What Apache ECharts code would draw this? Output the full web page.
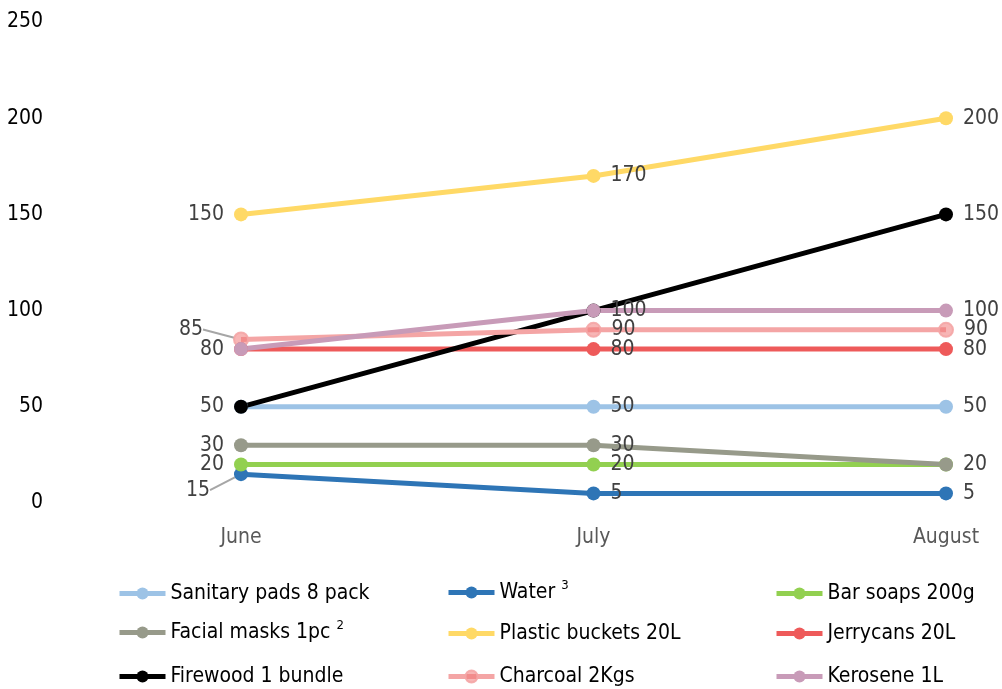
<!DOCTYPE html>
<html><head><meta charset="utf-8">
<script src="https://cdn.jsdelivr.net/npm/echarts@6/dist/echarts.min.js"></script>
<style>html,body{margin:0;padding:0;background:#fff}#c{width:1002px;height:689px}</style>
</head><body><div id="c"></div>
<script>
var months = ['June', 'July', 'August'];
var yTicks = [0, 50, 100, 150, 200, 250];
var sanitaryPads = [50, 50, 50];
var water = [15, 5, 5];
var barSoaps = [20, 20, 20];
var facialMasks = [30, 30, 20];
var plasticBuckets = [150, 170, 200];
var jerrycans = [80, 80, 80];
var firewood = [50, 100, 150];
var charcoal = [85, 90, 90];
var kerosene = [80, 100, 100];

var FONT = "'DejaVu Sans Condensed', 'Liberation Sans', sans-serif";

var seriesDefs = [
  {name: 'Sanitary pads 8 pack', data: sanitaryPads, color: '#9DC3E6', hide: []},
  {name: 'Water', data: water, color: '#2E75B6', hide: [], lead: 0},
  {name: 'Bar soaps 200g', data: barSoaps, color: '#92D050', hide: []},
  {name: 'Facial masks 1pc', data: facialMasks, color: '#979A8A', hide: [2]},
  {name: 'Plastic buckets 20L', data: plasticBuckets, color: '#FFD966', hide: []},
  {name: 'Jerrycans 20L', data: jerrycans, color: '#EE5A5A', hide: []},
  {name: 'Firewood 1 bundle', data: firewood, color: '#000000', hide: [0, 1]},
  {name: 'Charcoal 2Kgs', data: charcoal, color: '#F4A5A5', hide: [], lead: 0, ring: true},
  {name: 'Kerosene 1L', data: kerosene, color: '#C89BB8', hide: [0]}
];

var series = seriesDefs.map(function (d) {
  return {
    name: d.name,
    type: 'line',
    data: d.data.map(function (v, i) {
      var o = {value: v, label: {show: d.hide.indexOf(i) < 0, position: i === 0 ? 'left' : 'right'}};
      if (d.lead === i) {
        o.labelLine = {show: true, lineStyle: {color: '#A6A6A6', width: 2}};
      }
      return o;
    }),
    symbol: 'circle',
    symbolSize: 14,
    lineStyle: {color: d.color, width: 5},
    itemStyle: d.ring ? {color: 'rgba(240,120,120,0.55)', borderColor: 'rgba(244,165,165,0.9)', borderWidth: 2} : {color: d.color},
    color: d.color,
    label: {show: true, distance: 10, color: '#404040', fontSize: 21, fontFamily: FONT},
    labelLayout: function (p) {
      if (d.lead === p.dataIndex) {
        if (d.name === 'Water') return {dx: -14, dy: 16};
        return {dx: -20, dy: -10};
      }
      return {};
    },
    emphasis: {disabled: true},
    animation: false
  };
});

var legendGrid = [
  ['Sanitary pads 8 pack', 'Water', 'Bar soaps 200g'],
  ['Facial masks 1pc', 'Plastic buckets 20L', 'Jerrycans 20L'],
  ['Firewood 1 bundle', 'Charcoal 2Kgs', 'Kerosene 1L']
];
var colLefts = [112, 441, 769];
var rowTops = [578, 618, 661];
var supNames = {'Water': '3', 'Facial masks 1pc': '2'};
var legends = [];
legendGrid.forEach(function (row, r) {
  row.forEach(function (name, c) {
    legends.push({
      left: colLefts[c],
      top: rowTops[r] - (supNames[name] ? 4 : 0),
      itemWidth: 46,
      itemHeight: 15,
      itemGap: 0,
      data: [name],
      lineStyle: {width: 5},
      textStyle: {
        fontSize: 21, color: '#000', fontFamily: FONT,
        rich: {sup: {fontSize: 13, color: '#000', fontFamily: FONT, verticalAlign: 'top', padding: [0, 0, 14, 0]}}
      },
      formatter: function (n) {
        return supNames[n] ? n + ' {sup|' + supNames[n] + '}' : n;
      }
    });
  });
});

var option = {
  backgroundColor: '#fff',
  animation: false,
  grid: {left: 241, right: 56, top: 22, bottom: 186},
  legend: legends,
  xAxis: {
    type: 'category', data: months, boundaryGap: false,
    axisLine: {show: false}, axisTick: {show: false}, splitLine: {show: false},
    axisLabel: {color: '#595959', fontSize: 21, fontFamily: FONT, margin: 24}
  },
  yAxis: {
    type: 'value', min: yTicks[0], max: yTicks[yTicks.length - 1], interval: 50,
    axisLine: {show: false}, axisTick: {show: false}, splitLine: {show: false},
    axisLabel: {color: '#000', fontSize: 21, fontFamily: FONT, margin: 198}
  },
  series: series
};
echarts.init(document.getElementById('c')).setOption(option);
</script></body></html>
